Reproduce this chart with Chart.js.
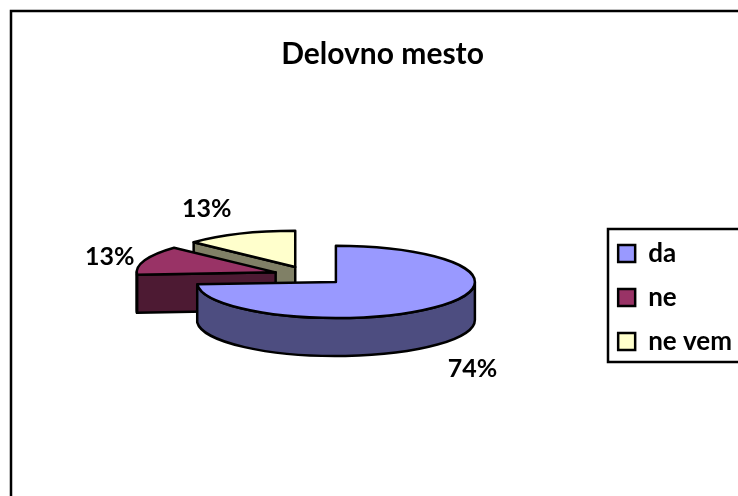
<!DOCTYPE html>
<html>
<head>
<meta charset="utf-8">
<style>
  body { margin: 0; background: #fff; }
  canvas { display: block; }
</style>
<script src="https://cdn.jsdelivr.net/npm/chart.js@4/dist/chart.umd.js"></script>
</head>
<body>
<canvas id="pie" width="738" height="496"></canvas>
<script>
const categories = ['da', 'ne', 'ne vem'];
const answers = [17, 3, 3];
const faceColors = ['#9999ff', '#993366', '#ffffcc'];
const wallColors = ['#4d4d80', '#4d1a33', '#808066'];
const chartTitle = 'Delovno mesto';

const fontFamily = 'Lato, "Open Sans", sans-serif';
const tilt = 0.26;    // vertical squash of the pie
const depth = 38;     // height of the walls in pixels
const labelShift = [[35, 62], [-35, -3], [-33, -25]];   // from the rim point of each slice

// Slice centre on screen, pushed out along its middle angle
const sliceCentre = (el) => {
    const mid = (el.startAngle + el.endAngle) / 2;
    return {
        x: el.x + Math.cos(mid) * el.options.offset,
        y: el.y + Math.sin(mid) * el.options.offset * tilt,
        mid: mid
    };
};

const fillStroke = (ctx, color) => {
    ctx.fillStyle = color;
    ctx.fill();
    ctx.stroke();
};

// Draws the pie as a tilted, exploded 3D disc from the arc elements
const tiltedPie = {
    id: 'tiltedPie',
    afterLayout(chart) {
        chart.titleBlock.left += 2;
        chart.titleBlock.right += 2;
        chart.legend.left += 4;
        chart.legend.right += 4;
        chart.legend.top += 58;
        chart.legend.bottom += 58;
    },
    beforeDraw(chart) {
        const ctx = chart.ctx;
        ctx.save();
        ctx.strokeStyle = '#000';
        ctx.lineWidth = 2.5;
        // outer frame runs off the right and bottom edges
        ctx.strokeRect(11, 11, 760, 520);
        // box around the legend, open on the right
        ctx.strokeRect(608, 229, 160, 133);
        ctx.restore();
    },
    beforeDatasetsDraw(chart) {
        const ctx = chart.ctx;
        const arcs = chart.getDatasetMeta(0).data;
        ctx.save();
        ctx.strokeStyle = '#000';
        ctx.lineWidth = 2.5;
        ctx.lineJoin = 'round';
        for (let i = arcs.length - 1; i >= 0; i--) {
            const el = arcs[i];
            const c = sliceCentre(el);
            const r = el.outerRadius;
            const ry = r * tilt;

            // cut face along the start edge, only when it looks at the viewer
            if (Math.cos(el.startAngle) < -0.001) {
                const ex = c.x + Math.cos(el.startAngle) * r;
                const ey = c.y + Math.sin(el.startAngle) * ry;
                ctx.beginPath();
                ctx.moveTo(c.x, c.y);
                ctx.lineTo(ex, ey);
                ctx.lineTo(ex, ey + depth);
                ctx.lineTo(c.x, c.y + depth);
                ctx.closePath();
                fillStroke(ctx, wallColors[i]);
            }

            // rim wall on the front half of the disc
            const from = Math.max(el.startAngle, 0);
            const to = Math.min(el.endAngle, Math.PI);
            if (to > from) {
                ctx.beginPath();
                ctx.ellipse(c.x, c.y, r, ry, 0, from, to);
                ctx.ellipse(c.x, c.y + depth, r, ry, 0, to, from, true);
                ctx.closePath();
                fillStroke(ctx, wallColors[i]);
            }

            // top face
            ctx.beginPath();
            ctx.moveTo(c.x, c.y);
            ctx.ellipse(c.x, c.y, r, ry, 0, el.startAngle, el.endAngle);
            ctx.closePath();
            fillStroke(ctx, faceColors[i]);
        }
        ctx.restore();
        return false;
    },
    afterDraw(chart) {
        const ctx = chart.ctx;
        const arcs = chart.getDatasetMeta(0).data;
        const total = answers.reduce((a, b) => a + b, 0);
        ctx.save();
        ctx.fillStyle = '#000';
        ctx.font = 'bold 25px ' + fontFamily;
        ctx.textAlign = 'center';
        ctx.textBaseline = 'middle';
        arcs.forEach((el, i) => {
            const c = sliceCentre(el);
            const x = c.x + Math.cos(c.mid) * el.outerRadius + labelShift[i][0];
            const y = c.y + Math.sin(c.mid) * el.outerRadius * tilt + labelShift[i][1];
            ctx.fillText(Math.round(answers[i] / total * 100) + '%', x, y);
        });
        ctx.restore();
    }
};

new Chart(document.getElementById('pie'), {
    type: 'pie',
    data: {
        labels: categories,
        datasets: [{
            data: answers,
            backgroundColor: faceColors,
            borderColor: '#000',
            borderWidth: 2.5,
            offset: 36,
            radius: 139
        }]
    },
    options: {
        responsive: false,
        animation: false,
        layout: { padding: { left: 23, bottom: 17 } },
        plugins: {
            title: {
                display: true,
                text: chartTitle,
                color: '#000',
                font: { family: fontFamily, size: 30, weight: 'bold' },
                padding: { top: 36, bottom: 0 }
            },
            legend: {
                position: 'right',
                labels: {
                    color: '#000',
                    boxWidth: 17,
                    boxHeight: 17,
                    padding: 18,
                    font: { family: fontFamily, size: 26, weight: 'bold' }
                }
            },
            tooltip: { enabled: false }
        }
    },
    plugins: [tiltedPie]
});
</script>
</body>
</html>
